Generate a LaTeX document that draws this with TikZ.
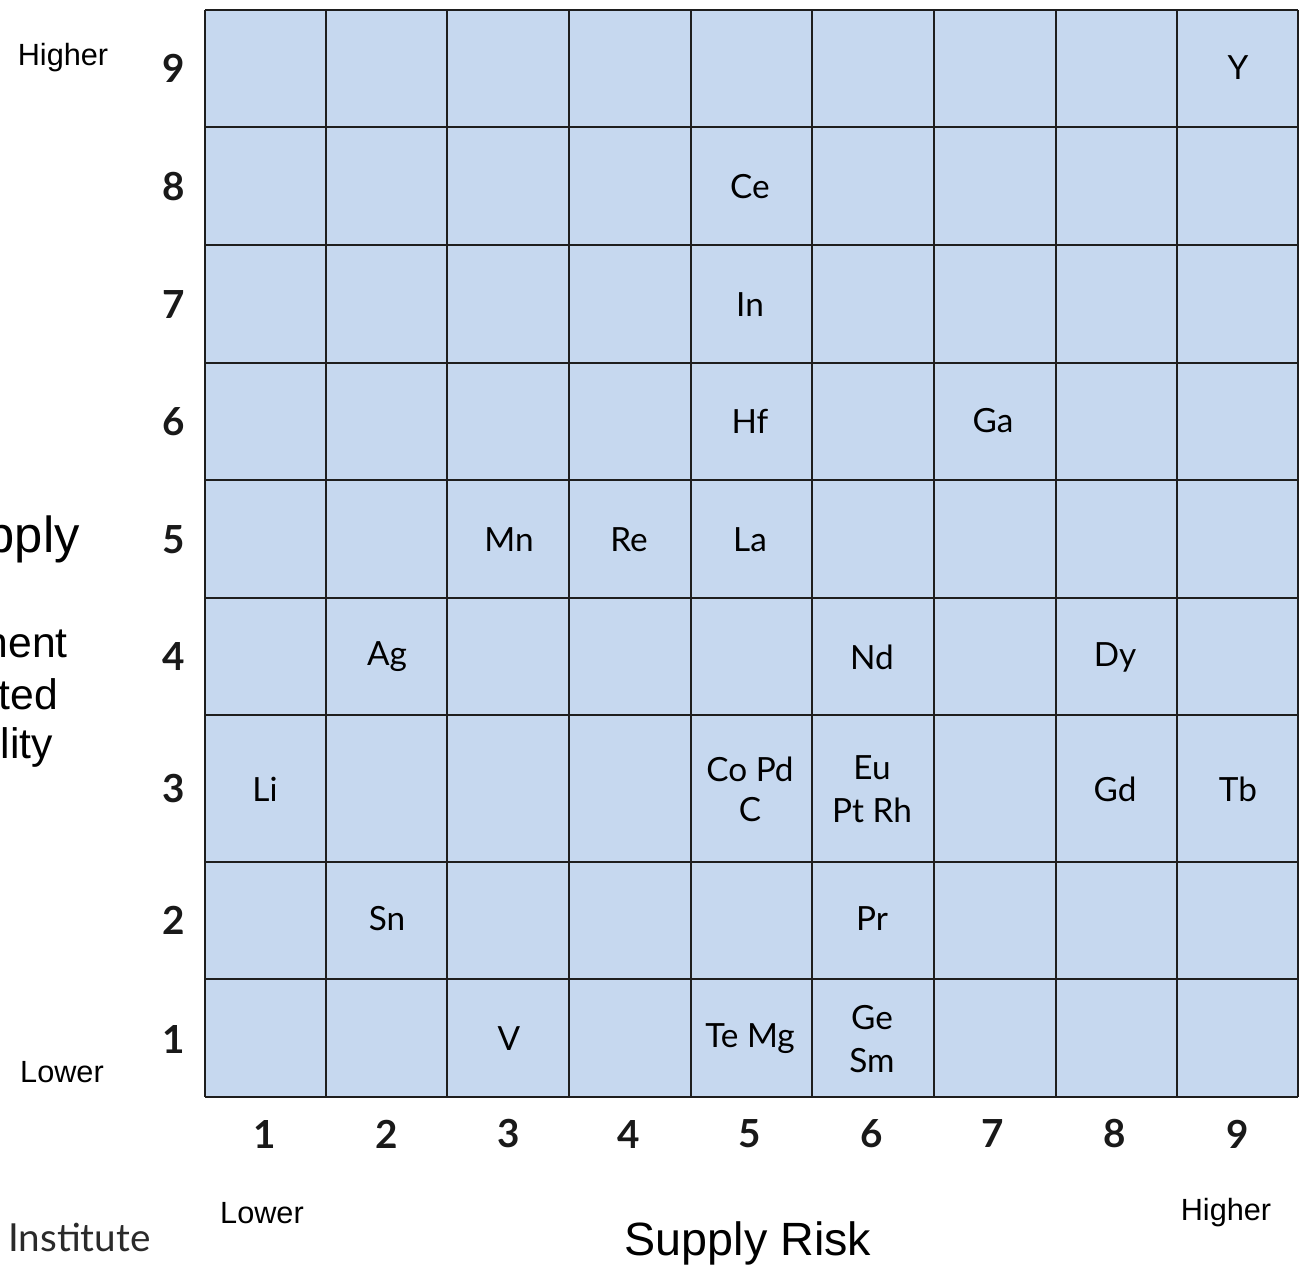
\documentclass[tikz,border=0pt]{standalone}
\usepackage{fontspec}
\setmainfont{Liberation Sans}
\newfontfamily\gillfont{Lato}
\definecolor{cellblue}{HTML}{C6D8EF}
\definecolor{gridline}{HTML}{1E1E1E}
\definecolor{instgray}{HTML}{2A2A2A}
\begin{document}
\begin{tikzpicture}[x=0.75pt,y=-0.75pt,
  cell/.style={font=\gillfont\fontsize{25}{32}\selectfont,align=center,inner sep=0pt,text=black},
  axnum/.style={font=\gillfont\bfseries\fontsize{29}{32}\selectfont,inner sep=0pt,text=black!90},
  side/.style={font=\fontsize{23}{26}\selectfont,inner sep=0pt},
  frag/.style={font=\fontsize{32}{36}\selectfont,inner sep=0pt,anchor=base east}]
\useasboundingbox (0,0) rectangle (1306,1267);
% grid
\fill[cellblue] (205,10) rectangle (1298,1097);
\foreach \x in {205,326,447,569,691,812,934,1056,1177,1298}
  \draw[gridline,line width=2.2pt] (\x,10) -- (\x,1097);
\foreach \y in {10,127,245,363,480,598,715,862,979,1097}
  \draw[gridline,line width=2.2pt] (205,\y) -- (1298,\y);
% row numbers
\node[axnum] (r9) at (174,68) {9};
\node[axnum] (r8) at (174,187) {8};
\node[axnum] (r7) at (174,305) {7};
\node[axnum] (r6) at (174,422) {6};
\node[axnum] (r5) at (174,540) {5};
\node[axnum] (r4) at (174,657) {4};
\node[axnum] (r3) at (174,789) {3};
\node[axnum] (r2) at (174,920) {2};
\node[axnum] (r1) at (174,1039) {1};
% column numbers
\node[axnum] (c1) at (265,1134) {1};
\node[axnum] (c2) at (387,1134) {2};
\node[axnum] (c3) at (509,1134) {3};
\node[axnum] (c4) at (629,1134) {4};
\node[axnum] (c5) at (750,1134) {5};
\node[axnum] (c6) at (872,1134) {6};
\node[axnum] (c7) at (993,1134) {7};
\node[axnum] (c8) at (1115,1134) {8};
\node[axnum] (c9) at (1238,1134) {9};
% elements
\node[cell] (Y)  at (1238,68) {Y};
\node[cell] (Ce) at (750,187) {Ce};
\node[cell] (In) at (750,305) {In};
\node[cell] (Hf) at (750,421) {Hf};
\node[cell] (Ga) at (993,421) {Ga};
\node[cell] (Mn) at (509,540) {Mn};
\node[cell] (Re) at (629,540) {Re};
\node[cell] (La) at (750,540) {La};
\node[cell] (Ag) at (387,657) {Ag};
\node[cell] (Nd) at (872,657) {Nd};
\node[cell] (Dy) at (1115,657) {Dy};
\node[cell] (Li) at (265,789) {Li};
\node[cell,font=\gillfont\fontsize{25}{30}\selectfont] (CoPdC) at (750,789) {Co Pd\\C};
\node[cell] (EuPtRh) at (872,789) {Eu\\Pt Rh};
\node[cell] (Gd) at (1115,789) {Gd};
\node[cell] (Tb) at (1238,789) {Tb};
\node[cell] (Sn) at (387,919) {Sn};
\node[cell] (Pr) at (872,919) {Pr};
\node[cell] (V)  at (509,1039) {V};
\node[cell] (TeMg) at (750,1039) {Te Mg};
\node[cell] (GeSm) at (872,1039) {Ge\\Sm};
% side labels
\node[side] (yhigh) at (63,58) {Higher};
\node[side] (ylow) at (62,1072) {Lower};
\node[side] (xlow) at (262,1213) {Lower};
\node[side] (xhigh) at (1226,1213) {Higher};
\node[font=\fontsize{35}{40}\selectfont,inner sep=0pt] (xtitle) at (748,1243) {Supply Risk};
% clipped left texts (cut at the picture's left edge, as in the reference)
\node[frag,font=\fontsize{38}{42}\selectfont] (f1) at (80,552) {pply};
\node[frag] (f2) at (68,657) {nent};
\node[frag] (f3) at (58,709) {ted};
\node[frag] (f4) at (53,758) {lity};
\node[font=\gillfont\fontsize{29}{32}\selectfont,text=instgray,inner sep=0pt,anchor=base west] (inst) at (8,1251) {Institute};
\end{tikzpicture}
\end{document}
